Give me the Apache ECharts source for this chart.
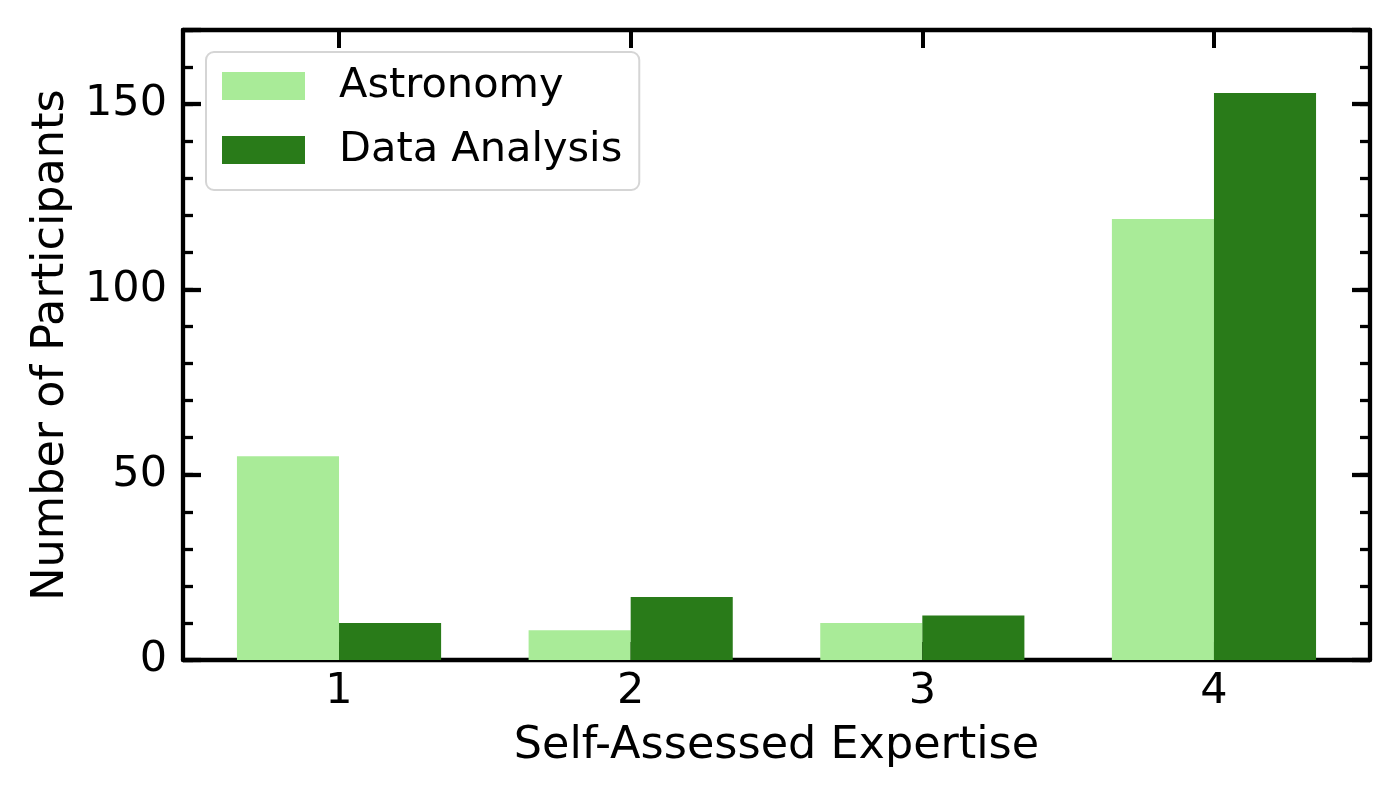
<!DOCTYPE html>
<html>
<head>
<meta charset="utf-8">
<script src="https://cdn.jsdelivr.net/npm/echarts@6/dist/echarts.min.js"></script>
<style>
  html, body { margin: 0; padding: 0; background: #fff; }
  #chart { width: 1400px; height: 800px; }
</style>
</head>
<body>
<div id="chart"></div>
<script>
// data
const categories = [1, 2, 3, 4];
const astronomy = [55, 8, 10, 119];
const dataAnalysis = [10, 17, 12, 153];
const seriesNames = ['Astronomy', 'Data Analysis'];
const yMajorTicks = [0, 50, 100, 150];

const colors = ['#a9eb98', '#297b19'];
const barWidth = 0.35; // in x-axis units
const font = 'DejaVu Sans';

function barRenderer(offset, color) {
  return function (params, api) {
    const x = api.value(0) + offset;
    const y = api.value(1);
    const p0 = api.coord([x - barWidth / 2, y]);
    const p1 = api.coord([x + barWidth / 2, 0]);
    return {
      type: 'rect',
      shape: { x: p0[0], y: p0[1], width: p1[0] - p0[0], height: p1[1] - p0[1] },
      style: { fill: color }
    };
  };
}

const chart = echarts.init(document.getElementById('chart'));

const line = { show: true, onZero: false, lineStyle: { color: '#000', width: 4.3 } };
const xBase = { type: 'value', min: 0.465, max: 4.535, splitLine: { show: false } };
const yBase = { type: 'value', min: 0, max: 170, splitLine: { show: false } };

const option = {
  animation: false,
  grid: { left: 183, right: 30, top: 30, bottom: 140, containLabel: false },
  legend: {
    left: 206, top: 52, orient: 'vertical',
    padding: [13, 17, 19, 16],
    itemWidth: 83, itemHeight: 28, itemGap: 22,
    borderColor: '#d5d5d5', borderWidth: 2, borderRadius: 8,
    backgroundColor: 'rgba(255,255,255,0.8)',
    textStyle: { fontFamily: font, fontSize: 41.5, color: '#000', padding: [3, 0, 0, 29] },
    data: [
      { name: seriesNames[0], icon: 'rect', itemStyle: { color: colors[0] } },
      { name: seriesNames[1], icon: 'rect', itemStyle: { color: colors[1] } }
    ]
  },
  xAxis: [
    Object.assign({}, xBase, {
      position: 'bottom',
      name: 'Self-Assessed Expertise', nameLocation: 'middle', nameGap: 64,
      nameTextStyle: { fontFamily: font, fontSize: 44.5, color: '#000' },
      axisLine: line,
      axisTick: { show: true, inside: true, length: 18, lineStyle: { color: '#000', width: 4 }, customValues: categories },
      axisLabel: { show: true, margin: 10, fontFamily: font, fontSize: 43, color: '#000', customValues: categories }
    }),
    Object.assign({}, xBase, {
      position: 'top',
      axisLine: line,
      axisTick: { show: true, inside: true, length: 18, lineStyle: { color: '#000', width: 4 }, customValues: categories },
      axisLabel: { show: false }
    })
  ],
  yAxis: [
    // left minor ticks + labels
    Object.assign({}, yBase, {
      position: 'left', interval: 10,
      name: 'Number of Participants', nameLocation: 'middle', nameGap: 109,
      nameTextStyle: { fontFamily: font, fontSize: 44.5, color: '#000' },
      axisLine: line,
      axisTick: { show: true, inside: true, length: 10, lineStyle: { color: '#000', width: 3.3 } },
      axisLabel: { show: true, margin: 16, fontFamily: font, fontSize: 43, color: '#000', customValues: yMajorTicks }
    }),
    // left major ticks
    Object.assign({}, yBase, {
      position: 'left', offset: 0, interval: 50,
      axisLine: { show: false },
      axisTick: { show: true, inside: true, length: 18, lineStyle: { color: '#000', width: 4.3 } },
      axisLabel: { show: false }
    }),
    // right minor ticks
    Object.assign({}, yBase, {
      position: 'right', offset: 0, interval: 10,
      axisLine: line,
      axisTick: { show: true, inside: true, length: 10, lineStyle: { color: '#000', width: 3.3 } },
      axisLabel: { show: false }
    }),
    // right major ticks
    Object.assign({}, yBase, {
      position: 'right', offset: 0, interval: 50,
      axisLine: { show: false },
      axisTick: { show: true, inside: true, length: 18, lineStyle: { color: '#000', width: 4.3 } },
      axisLabel: { show: false }
    })
  ],
  series: [
    {
      name: seriesNames[0], type: 'custom', xAxisIndex: 0, yAxisIndex: 0, z: 1,
      itemStyle: { color: colors[0] },
      renderItem: barRenderer(-barWidth / 2, colors[0]),
      data: categories.map((c, i) => [c, astronomy[i]])
    },
    {
      name: seriesNames[1], type: 'custom', xAxisIndex: 0, yAxisIndex: 0, z: 1,
      itemStyle: { color: colors[1] },
      renderItem: barRenderer(barWidth / 2, colors[1]),
      data: categories.map((c, i) => [c, dataAnalysis[i]])
    }
  ]
};

chart.setOption(option);
</script>
</body>
</html>
